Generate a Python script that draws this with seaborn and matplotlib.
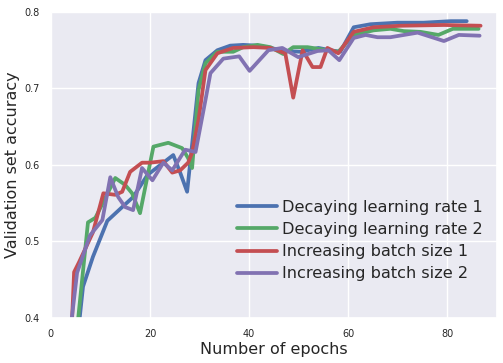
import numpy as np
import pandas as pd
import matplotlib
matplotlib.use("Agg")
import matplotlib.pyplot as plt
import seaborn as sns

series_names = ["Decaying learning rate 1", "Decaying learning rate 2",
                "Increasing batch size 1", "Increasing batch size 2"]

dlr1_epochs = [5.0, 6.5, 8.5, 11.4, 14.4, 16.6, 19.5, 22.7, 24.7, 26.1, 27.5, 29.8, 31.2, 33.6,
               36.2, 38.8, 41.7, 44.3, 47.3, 50.4, 54.0, 56.4, 58.4, 61.1, 64.5, 69.9, 75.2, 80.7, 83.9]
dlr1_acc = [0.35, 0.441, 0.480, 0.527, 0.545, 0.558, 0.587, 0.603, 0.613, 0.590, 0.565, 0.707, 0.737, 0.750,
            0.756, 0.757, 0.756, 0.753, 0.749, 0.748, 0.753, 0.750, 0.748, 0.780, 0.784, 0.786, 0.786, 0.788, 0.788]

dlr2_epochs = [4.9, 7.5, 9.0, 13.0, 15.0, 16.4, 18.0, 20.7, 23.7, 26.5, 27.7, 28.5, 29.8, 31.2, 33.6,
               36.8, 38.8, 41.7, 44.3, 46.9, 48.9, 51.8, 55.8, 58.0, 61.1, 65.1, 68.5, 71.2, 74.6, 78.2, 81.1, 86.3]
dlr2_acc = [0.36, 0.525, 0.531, 0.583, 0.574, 0.563, 0.537, 0.624, 0.629, 0.622, 0.609, 0.596, 0.698, 0.733, 0.748,
            0.748, 0.754, 0.757, 0.754, 0.745, 0.754, 0.754, 0.750, 0.748, 0.770, 0.776, 0.778, 0.775, 0.774, 0.770, 0.778, 0.778]

ibs1_epochs = [4.1, 4.7, 5.7, 8.5, 10.6, 13.0, 14.4, 16.0, 18.4, 20.0, 22.7, 24.5, 26.1, 27.7, 28.5, 29.8, 31.2,
               33.6, 36.8, 40.9, 44.3, 47.3, 48.9, 50.8, 52.8, 54.4, 55.8, 58.0, 61.1, 65.1, 70.6, 79.3, 86.7]
ibs1_acc = [0.37, 0.460, 0.473, 0.512, 0.563, 0.561, 0.565, 0.591, 0.603, 0.603, 0.605, 0.590, 0.593, 0.603, 0.616, 0.659, 0.724,
            0.746, 0.753, 0.754, 0.753, 0.746, 0.688, 0.750, 0.728, 0.728, 0.753, 0.746, 0.774, 0.780, 0.782, 0.783, 0.782]

ibs2_epochs = [3.7, 5.3, 7.9, 10.4, 12.0, 13.6, 15.0, 16.6, 18.4, 20.5, 22.7, 24.5, 27.1, 29.2, 31.2, 32.2,
               34.8, 38.0, 40.1, 43.9, 46.7, 49.9, 53.8, 56.0, 58.2, 61.1, 63.5, 65.9, 68.5, 74.0, 79.3, 82.3, 86.5]
ibs2_acc = [0.37, 0.459, 0.508, 0.528, 0.584, 0.558, 0.545, 0.541, 0.596, 0.580, 0.603, 0.593, 0.620, 0.617, 0.685, 0.720,
            0.739, 0.742, 0.723, 0.750, 0.753, 0.741, 0.749, 0.750, 0.737, 0.766, 0.770, 0.767, 0.767, 0.773, 0.762, 0.770, 0.769]

colors = ["#4C72B0", "#55A868", "#C44E52", "#8172B2"]

frames = []
for name, ep, acc in zip(series_names,
                         [dlr1_epochs, dlr2_epochs, ibs1_epochs, ibs2_epochs],
                         [dlr1_acc, dlr2_acc, ibs1_acc, ibs2_acc]):
    frames.append(pd.DataFrame({"epoch": ep, "acc": acc, "series": name}))
df = pd.concat(frames, ignore_index=True)

sns.set_theme(style="darkgrid")
plt.rcParams["font.family"] = ["DejaVu Sans"]

fig = plt.figure(figsize=(5.03, 3.63), dpi=100)
ax = fig.add_axes([0.101, 0.124, 0.887, 0.843])

sns.lineplot(data=df, x="epoch", y="acc", hue="series", hue_order=series_names,
             palette=dict(zip(series_names, colors)), linewidth=2.7, sort=False,
             estimator=None, ax=ax)

ax.set_xlim(0, 90)
ax.set_ylim(0.4, 0.8)
ax.set_xticks([0, 20, 40, 60, 80])
ax.set_yticks([0.4, 0.5, 0.6, 0.7, 0.8])
ax.tick_params(labelsize=7, pad=2)
ax.set_xlabel("Number of epochs", fontsize=11.5, labelpad=2)
ax.set_ylabel("Validation set accuracy", fontsize=11.5, labelpad=3)

leg = ax.legend(loc="lower right", fontsize=11.6, frameon=False,
                handlelength=2.5, handletextpad=0.3, borderaxespad=0.5,
                labelspacing=0.45, bbox_to_anchor=(1.0, 0.072))
for line in leg.get_lines():
    line.set_linewidth(2.7)

fig.savefig("out.png", dpi=100)
